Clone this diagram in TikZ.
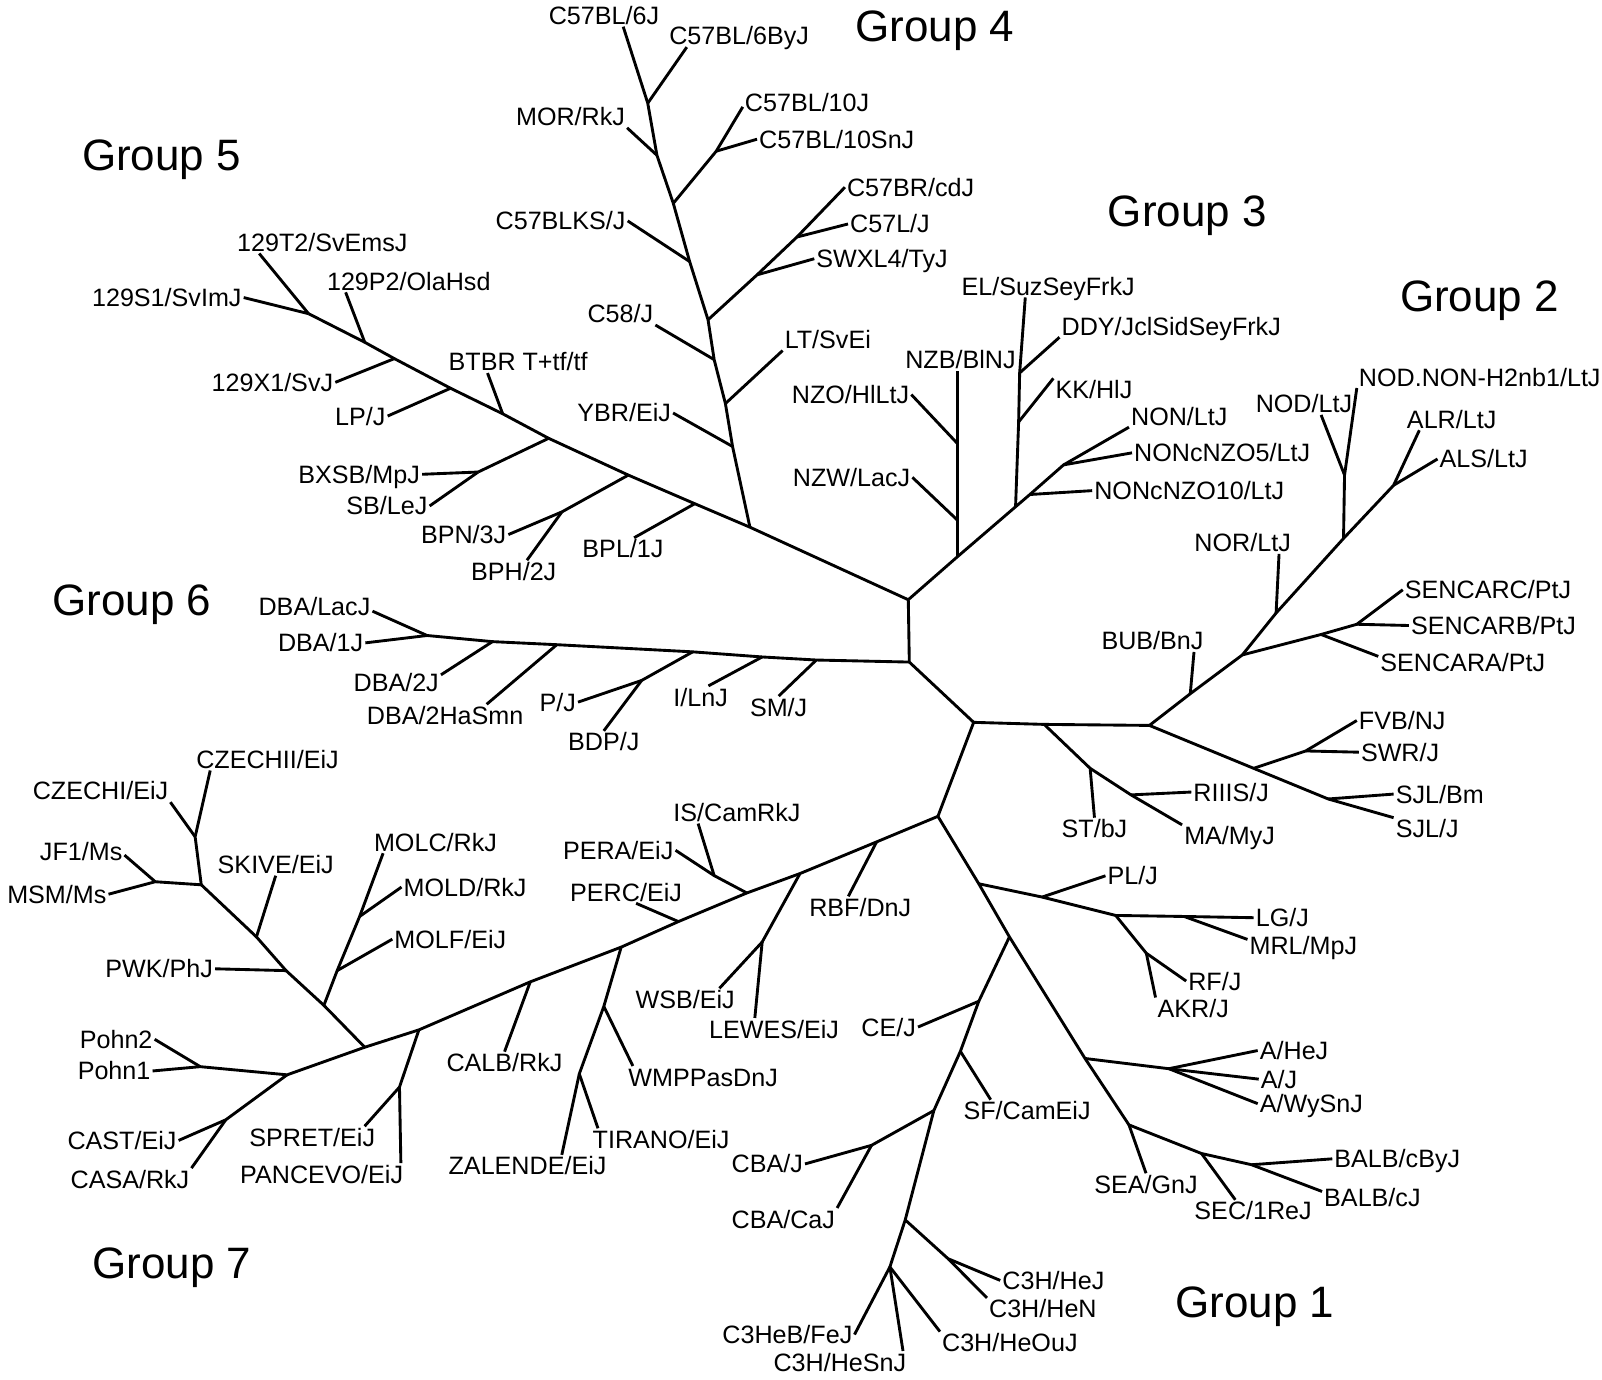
\documentclass[tikz,border=0pt]{standalone}
\usepackage{fontspec}
\setmainfont{Liberation Sans}
\begin{document}
\begin{tikzpicture}[
    x=0.02cm, y=-0.02cm,
    lbl/.style={
        anchor=base west, inner sep=1pt,
        text height=10pt, text depth=0pt,
        font=\fontsize{14}{16}\selectfont
    },
    grp/.style={anchor=base west, inner sep=0pt, font=\fontsize{24.5}{28}\selectfont},
    branch/.style={draw=black, line width=1.6pt, line join=round}
]

\fill[white] (0,0) rectangle (1568,1350);
\useasboundingbox (0,0) rectangle (1568,1350);

%% ── Central nodes ────────────────────────────────────────────────
\coordinate (cA) at (889,587);
\coordinate (cB) at (890,648);
\coordinate (cC) at (953,707);
\coordinate (cE) at (918,799);

%% ── Group 5 inner nodes ──────────────────────────────────────────
\coordinate (g5a) at (302,307);
\coordinate (g5b) at (357,335);
\coordinate (g5c) at (386,351);
\coordinate (g5d) at (441,380);
\coordinate (g5e) at (492,405);
\coordinate (g5f) at (537,429);
\coordinate (g5g) at (615,465);
\coordinate (g5h) at (680,493);
\coordinate (g5bx) at (468,462);
\coordinate (g5bp) at (550,501);

%% ── Group 4 inner nodes ──────────────────────────────────────────
\coordinate (g4r) at (734,516);
\coordinate (g4a) at (717,437);
\coordinate (g4b) at (710,395);
\coordinate (g4c) at (699,352);
\coordinate (g4d) at (693,313);
\coordinate (g4e) at (675,256);
\coordinate (g4f) at (659,199);
\coordinate (g4g) at (643,152);
\coordinate (g4h) at (634,101);
\coordinate (g4x) at (701,148);
\coordinate (g4y) at (780,232);
\coordinate (g4z) at (741,269);

%% ── Group 3 inner nodes ──────────────────────────────────────────
\coordinate (g3a) at (937,545);
\coordinate (g3a1) at (937,509);
\coordinate (g3a2) at (937,434);
\coordinate (g3b) at (994,496);
\coordinate (g3b1) at (997,413);
\coordinate (g3b2) at (998,365);
\coordinate (g3c) at (1008,484);
\coordinate (g3d) at (1041,455);

%% ── Group 2 inner nodes ──────────────────────────────────────────
\coordinate (g2r) at (1125,710);
\coordinate (g2s) at (1022,709);
\coordinate (g2t) at (1067,752);
\coordinate (g2u) at (1107,778);
\coordinate (g2a) at (1165,679);
\coordinate (g2b) at (1216,641);
\coordinate (g2c) at (1249,600);
\coordinate (g2d) at (1315,527);
\coordinate (g2d1) at (1316,465);
\coordinate (g2e) at (1364,475);
\coordinate (g2f) at (1293,621);
\coordinate (g2g) at (1328,611);
\coordinate (g2h) at (1227,752);
\coordinate (g2h1) at (1278,735);
\coordinate (g2i) at (1300,782);

%% ── Group 6 inner nodes ──────────────────────────────────────────
\coordinate (g6a) at (799,646);
\coordinate (g6b) at (746,643);
\coordinate (g6c) at (678,638);
\coordinate (g6c1) at (628,666);
\coordinate (g6d) at (545,631);
\coordinate (g6e) at (482,628);
\coordinate (g6f) at (418,622);

%% ── Group 7 inner nodes ──────────────────────────────────────────
\coordinate (g7a) at (858,824);
\coordinate (g7b) at (783,855);
\coordinate (g7b1) at (746,922);
\coordinate (g7c) at (731,874);
\coordinate (g7c1) at (699,857);
\coordinate (g7d) at (664,902);
\coordinate (g7e) at (608,927);
\coordinate (g7e1) at (591,985);
\coordinate (g7e2) at (567,1051);
\coordinate (g7f) at (519,961);
\coordinate (g7g) at (410,1008);
\coordinate (g7g1) at (391,1064);
\coordinate (g7h) at (357,1025);
\coordinate (g7i) at (281,1052);
\coordinate (g7j) at (221,1096);
\coordinate (g7k) at (196,1044);
\coordinate (g7l) at (317,984);
\coordinate (g7l1) at (330,950);
\coordinate (g7l2) at (352,897);
\coordinate (g7m) at (280,950);
\coordinate (g7n) at (251,917);
\coordinate (g7o) at (197,866);
\coordinate (g7p) at (191,819);
\coordinate (g7q) at (152,863);

%% ── Group 1 inner nodes ──────────────────────────────────────────
\coordinate (g1a) at (958,865);
\coordinate (g1a1) at (1020,878);
\coordinate (g1a2) at (1092,896);
\coordinate (g1a3) at (1159,897);
\coordinate (g1a4) at (1122,933);
\coordinate (g1b) at (988,917);
\coordinate (g1b1) at (958,980);
\coordinate (g1b2) at (940,1029);
\coordinate (g1b3) at (914,1087);
\coordinate (g1b4) at (886,1194);
\coordinate (g1b5) at (871,1240);
\coordinate (g1b6) at (853,1121);
\coordinate (g1b7) at (928,1232);
\coordinate (g1c) at (1062,1036);
\coordinate (g1c1) at (1144,1046);
\coordinate (g1d) at (1105,1101);
\coordinate (g1e) at (1176,1129);
\coordinate (g1f) at (1225,1140);

%% ── Strain labels ────────────────────────────────────────────────
% group 5
\node[lbl] (s129T2) at (230,246) {129T2/SvEmsJ};
\node[lbl] (s129S1) at (88,300) {129S1/SvImJ};
\node[lbl] (s129P2) at (318,284) {129P2/OlaHsd};
\node[lbl] (s129X1) at (205,383) {129X1/SvJ};
\node[lbl] (sLP) at (326,416) {LP/J};
\node[lbl] (sBTBR) at (437,363) {BTBR T+tf/tf};
\node[lbl] (sBXSB) at (290,473) {BXSB/MpJ};
\node[lbl] (sSB) at (337,504) {SB/LeJ};
\node[lbl] (sBPN) at (410,532) {BPN/3J};
\node[lbl] (sBPH) at (459,568) {BPH/2J};
\node[lbl] (sBPL) at (568,546) {BPL/1J};
% group 4
\node[lbl] (sYBR) at (563,413) {YBR/EiJ};
\node[lbl] (sC57BL6J) at (535,24) {C57BL/6J};
\node[lbl] (sC57BL6ByJ) at (653,44) {C57BL/6ByJ};
\node[lbl] (sMOR) at (503,123) {MOR/RkJ};
\node[lbl] (sC57BL10J) at (727,109) {C57BL/10J};
\node[lbl] (sC57BL10SnJ) at (741,145) {C57BL/10SnJ};
\node[lbl] (sC57BLKS) at (483,225) {C57BLKS/J};
\node[lbl] (sC57BR) at (827,192) {C57BR/cdJ};
\node[lbl] (sC57L) at (830,228) {C57L/J};
\node[lbl] (sSWXL4) at (797,262) {SWXL4/TyJ};
\node[lbl] (sC58) at (573,316) {C58/J};
\node[lbl] (sLT) at (766,341) {LT/SvEi};
% group 3
\node[lbl] (sNZB) at (884,361) {NZB/BlNJ};
\node[lbl] (sNZO) at (773,395) {NZO/HlLtJ};
\node[lbl] (sNZW) at (774,476) {NZW/LacJ};
\node[lbl] (sEL) at (939,289) {EL/SuzSeyFrkJ};
\node[lbl] (sDDY) at (1037,328) {DDY/JclSidSeyFrkJ};
\node[lbl] (sKK) at (1031,390) {KK/HlJ};
\node[lbl] (sNON) at (1105,416) {NON/LtJ};
\node[lbl] (sNONc5) at (1108,452) {NONcNZO5/LtJ};
\node[lbl] (sNONc10) at (1069,489) {NONcNZO10/LtJ};
% group 2
\node[lbl] (sBUB) at (1076,636) {BUB/BnJ};
\node[lbl] (sNOR) at (1167,540) {NOR/LtJ};
\node[lbl] (sNOD) at (1227,404) {NOD/LtJ};
\node[lbl] (sNODNON) at (1328,378) {NOD.NON-H2nb1/LtJ};
\node[lbl] (sALR) at (1375,419) {ALR/LtJ};
\node[lbl] (sALS) at (1407,458) {ALS/LtJ};
\node[lbl] (sSENC) at (1373,586) {SENCARC/PtJ};
\node[lbl] (sSENB) at (1379,621) {SENCARB/PtJ};
\node[lbl] (sSENA) at (1349,657) {SENCARA/PtJ};
\node[lbl] (sFVB) at (1328,714) {FVB/NJ};
\node[lbl] (sSWR) at (1330,745) {SWR/J};
\node[lbl] (sSJLBm) at (1364,786) {SJL/Bm};
\node[lbl] (sSJLJ) at (1364,820) {SJL/J};
\node[lbl] (sST) at (1037,820) {ST/bJ};
\node[lbl] (sRIIIS) at (1166,784) {RIIIS/J};
\node[lbl] (sMA) at (1157,827) {MA/MyJ};
% group 6
\node[lbl] (sDBALac) at (251,602) {DBA/LacJ};
\node[lbl] (sDBA1) at (270,638) {DBA/1J};
\node[lbl] (sDBA2) at (344,677) {DBA/2J};
\node[lbl] (sDBA2Ha) at (357,709) {DBA/2HaSmn};
\node[lbl] (sP) at (526,696) {P/J};
\node[lbl] (sBDP) at (554,735) {BDP/J};
\node[lbl] (sI) at (657,691) {I/LnJ};
\node[lbl] (sSM) at (732,701) {SM/J};
% group 7
\node[lbl] (sRBF) at (790,897) {RBF/DnJ};
\node[lbl] (sIS) at (657,804) {IS/CamRkJ};
\node[lbl] (sPERA) at (549,841) {PERA/EiJ};
\node[lbl] (sPERC) at (556,882) {PERC/EiJ};
\node[lbl] (sWSB) at (620,987) {WSB/EiJ};
\node[lbl] (sLEWES) at (692,1016) {LEWES/EiJ};
\node[lbl] (sCALB) at (435,1049) {CALB/RkJ};
\node[lbl] (sWMPP) at (613,1063) {WMPPasDnJ};
\node[lbl] (sTIRANO) at (578,1124) {TIRANO/EiJ};
\node[lbl] (sZALENDE) at (437,1150) {ZALENDE/EiJ};
\node[lbl] (sSPRET) at (242,1122) {SPRET/EiJ};
\node[lbl] (sPANCEVO) at (233,1158) {PANCEVO/EiJ};
\node[lbl] (sCAST) at (64,1125) {CAST/EiJ};
\node[lbl] (sCASA) at (67,1163) {CASA/RkJ};
\node[lbl] (sPohnB) at (76,1026) {Pohn2};
\node[lbl] (sPohnA) at (74,1057) {Pohn1};
\node[lbl] (sSKIVE) at (211,855) {SKIVE/EiJ};
\node[lbl] (sPWK) at (101,957) {PWK/PhJ};
\node[lbl] (sMOLC) at (364,833) {MOLC/RkJ};
\node[lbl] (sMOLD) at (393,877) {MOLD/RkJ};
\node[lbl] (sMOLF) at (384,928) {MOLF/EiJ};
\node[lbl] (sCZII) at (190,752) {CZECHII/EiJ};
\node[lbl] (sCZI) at (30,783) {CZECHI/EiJ};
\node[lbl] (sJF1) at (37,842) {JF1/Ms};
\node[lbl] (sMSM) at (5,884) {MSM/Ms};
% group 1
\node[lbl] (sPL) at (1082,866) {PL/J};
\node[lbl] (sLG) at (1227,907) {LG/J};
\node[lbl] (sMRL) at (1221,934) {MRL/MpJ};
\node[lbl] (sRF) at (1161,969) {RF/J};
\node[lbl] (sAKR) at (1131,996) {AKR/J};
\node[lbl] (sCE) at (841,1014) {CE/J};
\node[lbl] (sSF) at (941,1096) {SF/CamEiJ};
\node[lbl] (sCBAJ) at (714,1148) {CBA/J};
\node[lbl] (sCBACa) at (714,1202) {CBA/CaJ};
\node[lbl] (sC3HHeJ) at (979,1262) {C3H/HeJ};
\node[lbl] (sC3HHeN) at (966,1290) {C3H/HeN};
\node[lbl] (sC3HeB) at (705,1315) {C3HeB/FeJ};
\node[lbl] (sC3HSn) at (755,1342) {C3H/HeSnJ};
\node[lbl] (sC3HOu) at (920,1323) {C3H/HeOuJ};
\node[lbl] (sAHe) at (1231,1037) {A/HeJ};
\node[lbl] (sAJ) at (1232,1065) {A/J};
\node[lbl] (sAWy) at (1231,1089) {A/WySnJ};
\node[lbl] (sSEA) at (1069,1168) {SEA/GnJ};
\node[lbl] (sSEC) at (1167,1194) {SEC/1ReJ};
\node[lbl] (sBALBcBy) at (1304,1143) {BALB/cByJ};
\node[lbl] (sBALBc) at (1294,1181) {BALB/cJ};

%% ── Group titles ─────────────────────────────────────────────────
\node[grp] (grp1) at (1150,1290) {Group 1};
\node[grp] (grp2) at (1370,305) {Group 2};
\node[grp] (grp3) at (1084,222) {Group 3};
\node[grp] (grp4) at (837,41) {Group 4};
\node[grp] (grp5) at (80,167) {Group 5};
\node[grp] (grp6) at (51,602) {Group 6};
\node[grp] (grp7) at (90,1251) {Group 7};

%% ── Central edges ────────────────────────────────────────────────
\draw[branch] (cA) -- (cB) -- (cC) -- (cE);
\draw[branch] (cC) -- (g2s) -- (g2r);

%% ── Group 5 ──────────────────────────────────────────────────────
\draw[branch] (cA) -- (g4r) -- (g5h) -- (g5g) -- (g5f) -- (g5e) -- (g5d)
    -- (g5c) -- (g5b) -- (g5a);
\draw[branch] (g5a) -- (s129T2.190);
\draw[branch] (g5a) -- (s129S1.east);
\draw[branch] (g5b) -- (s129P2.190);
\draw[branch] (g5c) -- (s129X1.east);
\draw[branch] (g5d) -- (sLP.east);
\draw[branch] (g5e) -- (sBTBR.200);
\draw[branch] (g5f) -- (g5bx);
\draw[branch] (g5bx) -- (sBXSB.east);
\draw[branch] (g5bx) -- (sSB.east);
\draw[branch] (g5g) -- (g5bp);
\draw[branch] (g5bp) -- (sBPN.east);
\draw[branch] (g5bp) -- (sBPH.40);
\draw[branch] (g5h) -- (sBPL.45);

%% ── Group 4 ──────────────────────────────────────────────────────
\draw[branch] (g4r) -- (g4a) -- (g4b) -- (g4c) -- (g4d) -- (g4e) -- (g4f)
    -- (g4g) -- (g4h) -- (sC57BL6J.-30);
\draw[branch] (g4h) -- (sC57BL6ByJ.192);
\draw[branch] (g4g) -- (sMOR.south east);
\draw[branch] (g4f) -- (g4x) -- (sC57BL10J.184);
\draw[branch] (g4x) -- (sC57BL10SnJ.west);
\draw[branch] (g4e) -- (sC57BLKS.east);
\draw[branch] (g4d) -- (g4z) -- (g4y) -- (sC57BR.west);
\draw[branch] (g4y) -- (sC57L.west);
\draw[branch] (g4z) -- (sSWXL4.west);
\draw[branch] (g4c) -- (sC58.south east);
\draw[branch] (g4b) -- (sLT.south west);
\draw[branch] (g4a) -- (sYBR.east);

%% ── Group 3 ──────────────────────────────────────────────────────
\draw[branch] (cA) -- (g3a) -- (g3b) -- (g3c) -- (g3d) -- (sNON.south west);
\draw[branch] (g3a) -- (g3a1) -- (g3a2) -- (g3a2 |- sNZB.south);
\draw[branch] (g3a1) -- (sNZW.east);
\draw[branch] (g3a2) -- (sNZO.east);
\draw[branch] (g3b) -- (g3b1) -- (g3b2) -- (sEL.206);
\draw[branch] (g3b1) -- (sKK.north west);
\draw[branch] (g3b2) -- (sDDY.south west);
\draw[branch] (g3c) -- (sNONc10.west);
\draw[branch] (g3d) -- (sNONc5.west);

%% ── Group 2 ──────────────────────────────────────────────────────
\draw[branch] (g2r) -- (g2a) -- (g2b) -- (g2c) -- (g2d) -- (g2e) -- (sALR.199);
\draw[branch] (g2e) -- (sALS.west);
\draw[branch] (g2d) -- (g2d1) -- (sNOD.-33);
\draw[branch] (g2d1) -- (sNODNON.185);
\draw[branch] (g2c) -- (sNOR.-17);
\draw[branch] (g2b) -- (g2f) -- (g2g) -- (sSENC.west);
\draw[branch] (g2g) -- (sSENB.west);
\draw[branch] (g2f) -- (sSENA.176);
\draw[branch] (g2a) -- (sBUB.-15);
\draw[branch] (g2r) -- (g2h) -- (g2i) -- (sSJLJ.north west);
\draw[branch] (g2h) -- (g2h1) -- (sFVB.west);
\draw[branch] (g2h1) -- (sSWR.west);
\draw[branch] (g2i) -- (sSJLBm.west);
\draw[branch] (g2s) -- (g2t) -- (g2u) -- (sMA.north west);
\draw[branch] (g2t) -- (sST.north);
\draw[branch] (g2u) -- (sRIIIS.west);

%% ── Group 6 ──────────────────────────────────────────────────────
\draw[branch] (cB) -- (g6a) -- (g6b) -- (g6c) -- (g6d) -- (g6e) -- (g6f)
    -- (sDBALac.-5);
\draw[branch] (g6f) -- (sDBA1.east);
\draw[branch] (g6e) -- (sDBA2.10);
\draw[branch] (g6d) -- (sDBA2Ha.15);
\draw[branch] (g6c) -- (g6c1) -- (sP.east);
\draw[branch] (g6c1) -- (sBDP.north);
\draw[branch] (g6b) -- (sI.55);
\draw[branch] (g6a) -- (sSM.north);

%% ── Group 7 ──────────────────────────────────────────────────────
\draw[branch] (cE) -- (g7a) -- (g7b) -- (g7c) -- (g7d) -- (g7e) -- (g7f)
    -- (g7g) -- (g7h) -- (g7i) -- (g7k) -- (sPohnA.east);
\draw[branch] (g7k) -- (sPohnB.east);
\draw[branch] (g7i) -- (g7j) -- (sCAST.east);
\draw[branch] (g7j) -- (sCASA.north east);
\draw[branch] (g7a) -- (sRBF.137);
\draw[branch] (g7b) -- (g7b1) -- (sWSB.18);
\draw[branch] (g7b1) -- (sLEWES.150);
\draw[branch] (g7c) -- (g7c1) -- (sIS.196);
\draw[branch] (g7c1) -- (sPERA.east);
\draw[branch] (g7d) -- (sPERC.-48);
\draw[branch] (g7e) -- (g7e1) -- (g7e2) -- (sZALENDE.18);
\draw[branch] (g7e1) -- (sWMPP.171);
\draw[branch] (g7e2) -- (sTIRANO.170);
\draw[branch] (g7f) -- (sCALB.north);
\draw[branch] (g7g) -- (g7g1) -- (sPANCEVO.8);
\draw[branch] (g7g1) -- (sSPRET.12);
\draw[branch] (g7h) -- (g7l) -- (g7m) -- (g7n) -- (g7o) -- (g7p) -- (sCZII.191);
\draw[branch] (g7p) -- (sCZI.south east);
\draw[branch] (g7o) -- (g7q) -- (sJF1.-5);
\draw[branch] (g7q) -- (sMSM.east);
\draw[branch] (g7n) -- (sSKIVE.south);
\draw[branch] (g7m) -- (sPWK.east);
\draw[branch] (g7l) -- (g7l1) -- (g7l2) -- (sMOLC.192);
\draw[branch] (g7l1) -- (sMOLF.west);
\draw[branch] (g7l2) -- (sMOLD.west);

%% ── Group 1 ──────────────────────────────────────────────────────
\draw[branch] (cE) -- (g1a) -- (g1b) -- (g1c) -- (g1d) -- (g1e) -- (g1f)
    -- (sBALBc.173);
\draw[branch] (g1f) -- (sBALBcBy.west);
\draw[branch] (g1e) -- (sSEC.148);
\draw[branch] (g1d) -- (sSEA.north);
\draw[branch] (g1c) -- (g1c1) -- (sAWy.west);
\draw[branch] (g1c1) -- (sAHe.west);
\draw[branch] (g1c1) -- (sAJ.west);
\draw[branch] (g1a) -- (g1a1) -- (g1a2) -- (g1a3) -- (sLG.west);
\draw[branch] (g1a1) -- (sPL.west);
\draw[branch] (g1a3) -- (sMRL.174);
\draw[branch] (g1a2) -- (g1a4) -- (sRF.west);
\draw[branch] (g1a4) -- (sAKR.north west);
\draw[branch] (g1b) -- (g1b1) -- (g1b2) -- (g1b3) -- (g1b4) -- (g1b5)
    -- (sC3HSn.10);
\draw[branch] (g1b5) -- (sC3HeB.east);
\draw[branch] (g1b5) -- (sC3HOu.north west);
\draw[branch] (g1b4) -- (g1b7) -- (sC3HHeJ.west);
\draw[branch] (g1b7) -- (sC3HHeN.north west);
\draw[branch] (g1b3) -- (g1b6) -- (sCBAJ.east);
\draw[branch] (g1b6) -- (sCBACa.north east);
\draw[branch] (g1b1) -- (sCE.east);
\draw[branch] (g1b2) -- (sSF.163);

\end{tikzpicture}
\end{document}
